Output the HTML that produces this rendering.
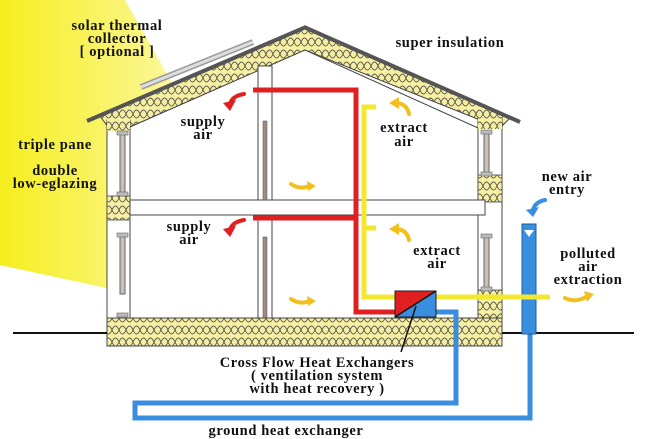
<!DOCTYPE html>
<html><head><style>
html,body{margin:0;padding:0;background:#fff;width:658px;height:439px;overflow:hidden}
svg{display:block}
text{font-family:"Liberation Serif",serif;font-weight:bold;font-size:14.5px;fill:#111;letter-spacing:0.6px}
</style></head><body>
<svg width="658" height="439" viewBox="0 0 658 439">
<defs>
<linearGradient id="sun" x1="0" y1="0" x2="1" y2="0">
<stop offset="0" stop-color="#f5ee1e"/><stop offset="0.5" stop-color="#fbf68a"/><stop offset="1" stop-color="#fffbe0" stop-opacity="0"/>
</linearGradient>
<pattern id="ins" width="14" height="12" patternUnits="userSpaceOnUse">
<rect width="14" height="12" fill="#f7f0a0"/>
<path d="M0 6 Q3.5 -2 7 6 Q10.5 14 14 6 M0 6 Q3.5 14 7 6 Q10.5 -2 14 6" fill="none" stroke="#555" stroke-width="0.9"/>
</pattern>
</defs>
<polygon points="0,0 125,0 305,318 245,318 0,265" fill="url(#sun)"/>
<!-- roof insulation -->
<polygon points="100,116 305,28 510,118 500,128 305,50 130,127 108,127" fill="url(#ins)" stroke="#444" stroke-width="1"/>
<!-- interior white house -->
<polygon points="130,127 305,50 478,128 478,318 130,318" fill="#fff" stroke="#444" stroke-width="1"/>
<!-- roof line -->
<line x1="87" y1="121" x2="306" y2="27" stroke="#555" stroke-width="4"/>
<line x1="304" y1="27" x2="520" y2="122" stroke="#555" stroke-width="4"/>
<!-- solar collector -->
<line x1="141" y1="87" x2="253" y2="42" stroke="#999" stroke-width="6"/>
<line x1="141" y1="87" x2="253" y2="42" stroke="#ddd" stroke-width="3"/>
<!-- walls -->
<rect x="107" y="120" width="23" height="198" fill="#fff" stroke="#444"/>
<rect x="478" y="118" width="24" height="200" fill="#fff" stroke="#444"/>
<rect x="107" y="117" width="23" height="14" fill="url(#ins)"/>
<rect x="478" y="117" width="24" height="12" fill="url(#ins)"/>
<rect x="107" y="196" width="23" height="24" fill="url(#ins)" stroke="#444" stroke-width="0.8"/>
<rect x="478" y="175" width="24" height="27" fill="url(#ins)" stroke="#444" stroke-width="0.8"/>
<rect x="478" y="290" width="24" height="38" fill="url(#ins)" stroke="#444" stroke-width="0.8"/>
<!-- windows -->
<g stroke="#666" stroke-width="1" fill="#c9c0b8">
<rect x="120" y="133" width="5" height="62"/><rect x="120" y="234" width="5" height="60"/>
<rect x="484" y="132" width="5" height="42"/><rect x="484" y="236" width="5" height="52"/>
</g>
<g fill="#bbb" stroke="#666" stroke-width="0.6">
<rect x="117" y="131" width="11" height="4"/><rect x="117" y="192" width="11" height="4"/>
<rect x="117" y="233" width="11" height="4"/><rect x="117" y="313" width="11" height="4"/>
<rect x="481" y="130" width="11" height="4"/><rect x="481" y="172" width="11" height="4"/>
<rect x="481" y="234" width="11" height="4"/><rect x="481" y="287" width="11" height="4"/>
</g>
<!-- middle floor -->
<rect x="130" y="200" width="355" height="15" fill="#fff" stroke="#444"/>
<!-- interior wall -->
<rect x="258" y="66" width="14" height="134" fill="#fff" stroke="#444"/>
<rect x="258" y="215" width="14" height="103" fill="#fff" stroke="#444"/>
<rect x="263" y="121" width="4" height="79" fill="#a08a80" stroke="#555" stroke-width="0.5"/>
<rect x="263" y="237" width="4" height="81" fill="#a08a80" stroke="#555" stroke-width="0.5"/>
<!-- floor slab -->
<rect x="107" y="318" width="395" height="28" fill="url(#ins)" stroke="#444"/>
<line x1="130" y1="318" x2="478" y2="318" stroke="#444"/>
<!-- ground line -->
<line x1="13" y1="333" x2="107" y2="333" stroke="#111" stroke-width="2"/>
<line x1="502" y1="333" x2="634" y2="333" stroke="#111" stroke-width="2"/>
<!-- blue pipes -->
<polyline points="436,312 456,312 456,403 135,403 135,418 530,418 530,333" fill="none" stroke="#3a8ee0" stroke-width="5"/>
<rect x="522" y="224" width="14" height="110" fill="#3a8ee0" stroke="#1f5f9f" stroke-width="1"/>
<polygon points="524,230 534,230 529,237" fill="#fff"/>
<!-- red pipe -->
<polyline points="253,90 356,90 356,312 396,312" fill="none" stroke="#e02020" stroke-width="5"/>
<line x1="253" y1="218" x2="356" y2="218" stroke="#e02020" stroke-width="5"/>
<!-- yellow pipe -->
<polyline points="376,107 364,107 364,297 550,297" fill="none" stroke="#f3e830" stroke-width="5"/>
<line x1="364" y1="228" x2="376" y2="228" stroke="#f3e830" stroke-width="5"/>
<!-- exchanger -->
<polygon points="395,291 436,291 395,317" fill="#e02020"/>
<polygon points="436,291 436,317 395,317" fill="#3a8ee0"/>
<rect x="395" y="291" width="41" height="26" fill="none" stroke="#222"/>
<line x1="395" y1="317" x2="436" y2="291" stroke="#111" stroke-width="1.5"/>
<line x1="416" y1="306" x2="401" y2="352" stroke="#111" stroke-width="1.5"/>
<!-- air arrows -->
<g fill="none" stroke-width="4" stroke-linecap="round">
<path d="M244,94 Q232,96 230,104" stroke="#e02020"/>
<path d="M244,220 Q232,222 230,230" stroke="#e02020"/>
<path d="M409,114 Q407,104 397,103" stroke="#f2c01c"/>
<path d="M409,240 Q407,230 397,229" stroke="#f2c01c"/>
<path d="M291,184 Q300,190 310,186" stroke="#f2c01c"/>
<path d="M291,299 Q300,305 310,301" stroke="#f2c01c"/>
<path d="M565,298 Q575,303 586,297" stroke="#f2c01c"/>
<path d="M545,200 Q535,202 533,210" stroke="#3a8ee0"/>
</g>
<g stroke="none">
<polygon points="223,103 236,100 230,111" fill="#e02020"/>
<polygon points="223,229 236,226 230,237" fill="#e02020"/>
<polygon points="389,103 399,97 399,109" fill="#f2c01c"/>
<polygon points="389,229 399,223 399,235" fill="#f2c01c"/>
<polygon points="316,186 307,181 308,191" fill="#f2c01c"/>
<polygon points="316,301 307,296 308,306" fill="#f2c01c"/>
<polygon points="594,294 584,291 587,302" fill="#f2c01c"/>
<polygon points="526,210 539,207 533,217" fill="#3a8ee0"/>
</g>
<!-- labels -->
<g text-anchor="middle">
<text x="117" y="30">solar thermal</text>
<text x="117" y="43">collector</text>
<text x="117" y="56">[ optional ]</text>
<text x="450" y="47">super insulation</text>
<text x="203" y="126">supply</text><text x="203" y="139">air</text>
<text x="189" y="231">supply</text><text x="189" y="244">air</text>
<text x="404" y="132">extract</text><text x="404" y="146">air</text>
<text x="437" y="255">extract</text><text x="437" y="268">air</text>
<text x="55" y="149">triple pane</text>
<text x="55" y="175">double</text>
<text x="55" y="188">low-eglazing</text>
<text x="567" y="181">new air</text><text x="567" y="194">entry</text>
<text x="588" y="258">polluted</text><text x="588" y="271">air</text><text x="588" y="284">extraction</text>
<text x="317" y="367">Cross Flow Heat Exchangers</text>
<text x="317" y="380">( ventilation system</text>
<text x="317" y="393">with heat recovery )</text>
<text x="286" y="435">ground heat exchanger</text>
</g>
</svg>
</body></html>
